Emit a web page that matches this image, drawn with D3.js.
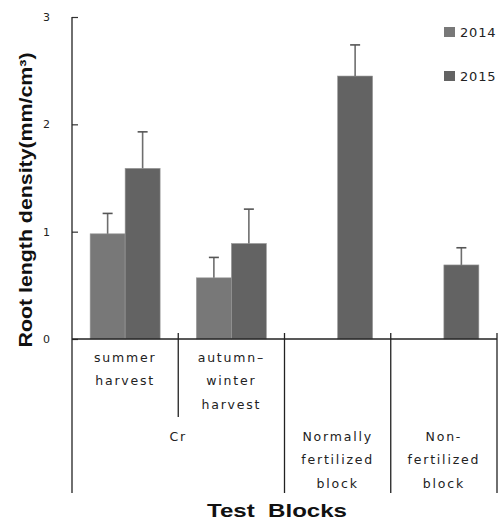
<!DOCTYPE html>
<html>
<head>
<meta charset="utf-8">
<script src="https://cdn.jsdelivr.net/npm/d3@7"></script>
<style>
  html, body { margin: 0; padding: 0; background: #fff; }
  svg { display: block; }
</style>
</head>
<body>
<script>
// Root length density by test block, 2014 vs 2015
const categories = ["summer harvest", "autumn-winter harvest", "Normally fertilized block", "Non-fertilized block"];
const categoryLines = [["summer", "harvest"], ["autumn\u2013", "winter", "harvest"], ["Normally", "fertilized", "block"], ["Non-", "fertilized", "block"]];
const years = ["2014", "2015"];
const values2014 = [0.98, 0.57, null, null];
const values2015 = [1.59, 0.89, 2.45, 0.69];
const errors2014 = [0.19, 0.19, null, null];
const errors2015 = [0.34, 0.32, 0.29, 0.16];
const yTicks = [0, 1, 2, 3];
const groupLabel = "Cr";
const yTitle = "Root length density(mm/cm\u00B3)";
const xTitle = "Test  Blocks";

const W = 502, H = 524;
const plotLeft = 72, plotRight = 497, plotTop = 17, plotBase = 339, plotBottom = 493;
const colors = { "2014": "#787878", "2015": "#636363" };

const svg = d3.select("body").append("svg").attr("width", W).attr("height", H);

const x = d3.scaleBand().domain(categories).range([plotLeft, plotRight]).paddingInner(0).paddingOuter(0);
const xs = d3.scaleBand().domain(years).range([0, x.bandwidth()]).paddingInner(0).paddingOuter(0.518);
const y = d3.scaleLinear().domain([0, 3]).range([plotBase, plotTop]);

const rows = [];
categories.forEach((c, i) => {
  [[years[0], values2014[i], errors2014[i]], [years[1], values2015[i], errors2015[i]]].forEach(([yr, v, e]) => {
    if (v != null) rows.push({ cat: c, year: yr, value: v, err: e });
  });
});

// bars
svg.append("g").selectAll("rect").data(rows).join("rect")
  .attr("x", d => x(d.cat) + xs(d.year))
  .attr("y", d => y(d.value))
  .attr("width", xs.bandwidth())
  .attr("height", d => y(0) - y(d.value))
  .attr("fill", d => colors[d.year])
  .attr("stroke", "#9a9a9a")
  .attr("stroke-width", 0.6);

// error bars
const eg = svg.append("g").attr("stroke", "#6e6e6e").attr("stroke-width", 1.6);
rows.forEach(d => {
  const cx = x(d.cat) + xs(d.year) + xs.bandwidth() / 2;
  eg.append("line").attr("x1", cx).attr("x2", cx).attr("y1", y(d.value)).attr("y2", y(d.value + d.err));
  eg.append("line").attr("x1", cx - 5).attr("x2", cx + 5).attr("y1", y(d.value + d.err)).attr("y2", y(d.value + d.err)).attr("stroke", "#555");
});

// y axis
const yAxis = d3.axisLeft(y).tickValues(yTicks).tickFormat(d3.format("d")).tickSizeInner(-6).tickSizeOuter(0).tickPadding(22);
const ya = svg.append("g").attr("transform", `translate(${plotLeft},0)`).call(yAxis);
ya.select(".domain").remove();
ya.selectAll(".tick line").attr("stroke", "#333").attr("stroke-width", 1.2);
ya.selectAll(".tick text").attr("font-family", "DejaVu Sans, sans-serif").attr("font-size", 11).attr("fill", "#222");

const frame = svg.append("g").attr("stroke", "#222").attr("stroke-width", 1.3);
frame.append("line").attr("x1", plotLeft).attr("x2", plotLeft).attr("y1", y(3)).attr("y2", plotBottom);
frame.append("line").attr("x1", plotLeft).attr("x2", plotRight).attr("y1", y(0)).attr("y2", y(0));

// category dividers
categories.forEach((c, i) => {
  if (i === 0) return;
  const xx = x(c);
  frame.append("line").attr("x1", xx).attr("x2", xx).attr("y1", y(0) - 6)
    .attr("y2", i === 1 ? 417 : plotBottom);
});
frame.append("line").attr("x1", plotRight).attr("x2", plotRight).attr("y1", y(0) - 6).attr("y2", plotBottom);

// category labels
const lab = svg.append("g").attr("font-family", "DejaVu Sans, sans-serif").attr("font-size", 12.5)
  .attr("letter-spacing", 1.8).attr("fill", "#222").attr("text-anchor", "middle");
categoryLines.forEach((lines, i) => {
  const cx = x(categories[i]) + x.bandwidth() / 2;
  const y0 = i < 2 ? 362 : 441;
  lines.forEach((t, j) => {
    lab.append("text").attr("x", cx).attr("y", y0 + j * 23.3).text(t);
  });
});
lab.append("text").attr("x", x(categories[1])).attr("y", 441).text(groupLabel);

// axis titles
svg.append("text")
  .attr("transform", `translate(32,200) rotate(-90)`)
  .attr("text-anchor", "middle")
  .attr("font-family", "Liberation Sans, Arial, sans-serif").attr("font-weight", "bold")
  .attr("font-size", 18).attr("fill", "#111")
  .attr("textLength", 295).attr("lengthAdjust", "spacingAndGlyphs")
  .text(yTitle);

svg.append("text")
  .attr("x", 277).attr("y", 517)
  .attr("text-anchor", "middle")
  .attr("font-family", "Liberation Sans, Arial, sans-serif").attr("font-weight", "bold")
  .attr("font-size", 19).attr("fill", "#111")
  .style("white-space", "pre")
  .attr("textLength", 140).attr("lengthAdjust", "spacingAndGlyphs")
  .text(xTitle);

// legend
const lg = svg.append("g").attr("font-family", "DejaVu Sans, sans-serif").attr("font-size", 13).attr("fill", "#222");
years.forEach((yr, i) => {
  const ly = 27 + i * 44;
  lg.append("rect").attr("x", 444).attr("y", ly).attr("width", 11).attr("height", 10).attr("fill", colors[yr]);
  lg.append("text").attr("x", 460).attr("y", ly + 10).attr("letter-spacing", 0.8).text(yr);
});
</script>
</body>
</html>
